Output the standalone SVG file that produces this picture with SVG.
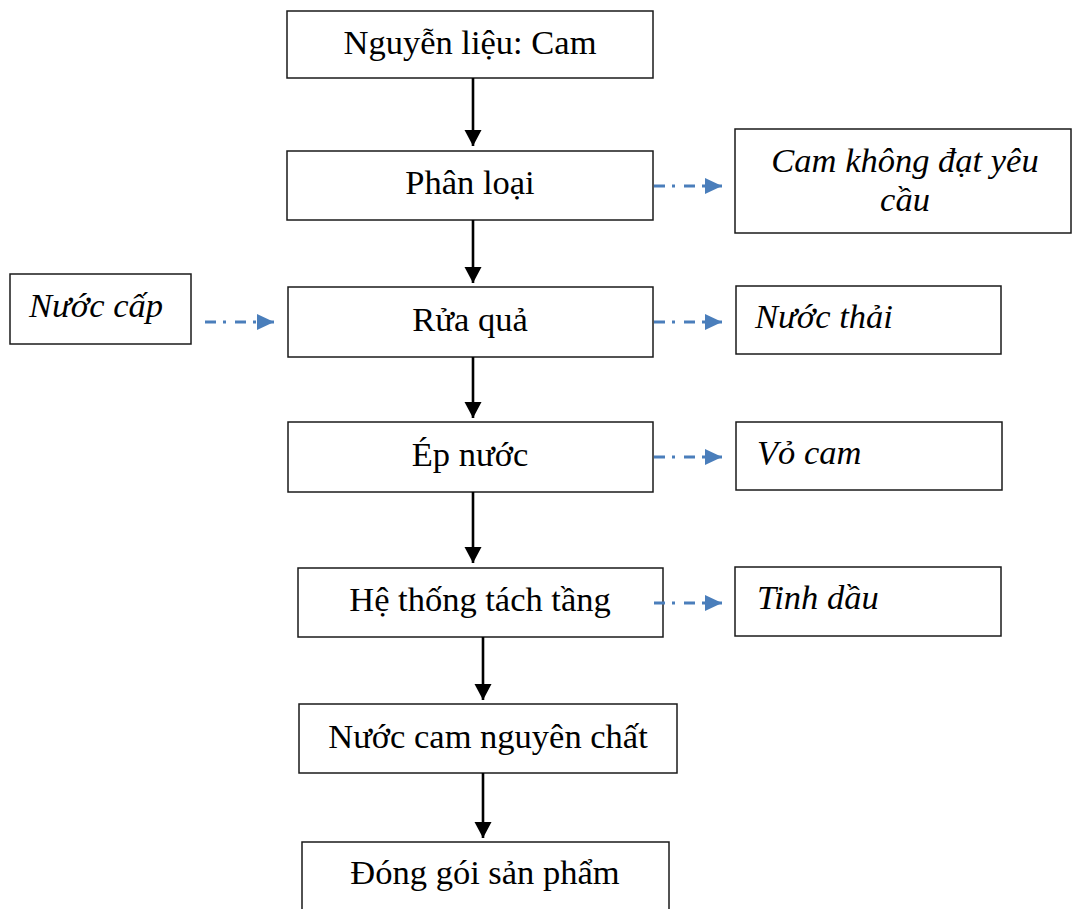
<svg xmlns="http://www.w3.org/2000/svg" width="1073" height="909" viewBox="0 0 1073 909">
<style>
.box{fill:#fff;stroke:#1a1a1a;stroke-width:1.5}
.t{font-family:"Liberation Serif","Times New Roman",serif;font-size:34.5px;fill:#000}
.c{text-anchor:middle}
.i{font-style:italic}
.solid{stroke:#000;stroke-width:2.6;fill:none}
.dash{stroke:#4a7ebb;stroke-width:3;fill:none;stroke-dasharray:11 7 3 9}
</style>
<defs>
<marker id="ab" markerUnits="userSpaceOnUse" markerWidth="18" markerHeight="18" refX="16" refY="8.5" orient="auto">
<path d="M0,0 L16,8.5 L0,17 Z" fill="#000"/>
</marker>
<marker id="abl" markerUnits="userSpaceOnUse" markerWidth="18" markerHeight="16" refX="17" refY="8" orient="auto">
<path d="M0,0 L17,8 L0,16 Z" fill="#4a7ebb"/>
</marker>
</defs>
<rect width="1073" height="909" fill="#fff"/>
<g id="n1"><rect class="box" x="287" y="11" width="366" height="67"/><text class="t c" x="470" y="54">Nguyễn liệu: Cam</text></g>
<g id="n2"><rect class="box" x="287" y="151" width="366" height="69"/><text class="t c" x="470" y="194">Phân loại</text></g>
<g id="n3"><rect class="box" x="735" y="129" width="336" height="104"/><text class="t c i" x="905" y="172">Cam không đạt yêu</text><text class="t c i" x="905" y="211">cầu</text></g>
<g id="n4"><rect class="box" x="10" y="274" width="181" height="70"/><text class="t i" x="29" y="317">Nước cấp</text></g>
<g id="n5"><rect class="box" x="288" y="287" width="365" height="70"/><text class="t c" x="470" y="331">Rửa quả</text></g>
<g id="n6"><rect class="box" x="736" y="286" width="265" height="68"/><text class="t i" x="755" y="328">Nước thải</text></g>
<g id="n7"><rect class="box" x="288" y="422" width="365" height="70"/><text class="t c" x="470" y="466">Ép nước</text></g>
<g id="n8"><rect class="box" x="736" y="422" width="266" height="68"/><text class="t i" x="757" y="464">Vỏ cam</text></g>
<g id="n9"><rect class="box" x="298" y="568" width="365" height="69"/><text class="t c" x="480" y="611">Hệ thống tách tầng</text></g>
<g id="n10"><rect class="box" x="735" y="567" width="266" height="69"/><text class="t i" x="757" y="609">Tinh dầu</text></g>
<g id="n11"><rect class="box" x="299" y="704" width="378" height="69"/><text class="t c" x="488" y="748">Nước cam nguyên chất</text></g>
<g id="n12"><rect class="box" x="302" y="842" width="367" height="80"/><text class="t c" x="485" y="884">Đóng gói sản phẩm</text></g>
<g id="connectors">
<line class="solid" x1="473" y1="78" x2="473" y2="146" marker-end="url(#ab)"/>
<line class="solid" x1="473" y1="220" x2="473" y2="283" marker-end="url(#ab)"/>
<line class="solid" x1="473" y1="357" x2="473" y2="418" marker-end="url(#ab)"/>
<line class="solid" x1="473" y1="492" x2="473" y2="563" marker-end="url(#ab)"/>
<line class="solid" x1="483" y1="637" x2="483" y2="700" marker-end="url(#ab)"/>
<line class="solid" x1="483" y1="773" x2="483" y2="838" marker-end="url(#ab)"/>
<line class="dash" x1="654" y1="186" x2="722" y2="186" marker-end="url(#abl)"/>
<line class="dash" x1="654" y1="322" x2="722" y2="322" marker-end="url(#abl)"/>
<line class="dash" x1="205" y1="322" x2="274" y2="322" marker-end="url(#abl)"/>
<line class="dash" x1="654" y1="457" x2="722" y2="457" marker-end="url(#abl)"/>
<line class="dash" x1="654" y1="603" x2="722" y2="603" marker-end="url(#abl)"/>
</g>
</svg>
